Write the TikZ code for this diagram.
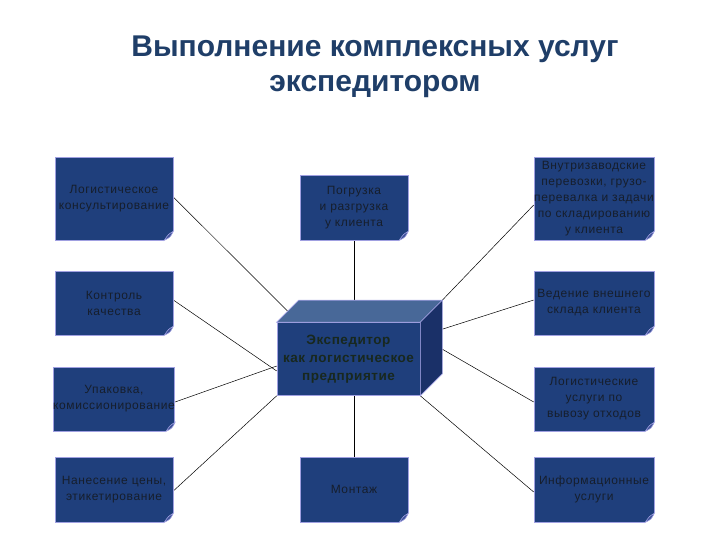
\documentclass[tikz,border=0pt]{standalone}
\usepackage{fontspec}
\setmainfont{Liberation Sans}
\newfontfamily\cardfont[LetterSpace=5]{Liberation Sans}
\newfontfamily\cubefont[LetterSpace=4]{Liberation Sans}
\usetikzlibrary{backgrounds,calc}
\definecolor{boxblue}{RGB}{31,63,124}
\definecolor{edge}{RGB}{160,160,225}
\definecolor{txt}{RGB}{22,30,44}
\definecolor{ctxt}{RGB}{24,40,30}
\definecolor{title}{RGB}{31,62,104}
\definecolor{topf}{RGB}{72,104,152}
\definecolor{sidef}{RGB}{26,48,104}
\definecolor{flapc}{RGB}{60,80,150}
\begin{document}
\begin{tikzpicture}[x=1pt,y=-1pt,
  card/.style={draw=edge, line width=0.6pt, fill=boxblue, text=txt, align=center,
    inner sep=0pt, font=\cardfont\fontsize{12}{16}\selectfont},
  conn/.style={draw=black, line width=0.5pt}]
\useasboundingbox (0,0) rectangle (720,540);
% title
\node[text=title, align=center, font=\fontsize{30}{35}\selectfont\bfseries] (t) at (375,67)
  {Выполнение комплексных услуг\\экспедитором};
% left column
\node[card, minimum width=118pt, minimum height=83pt] (l1) at (114,198.5) {Логистическое\\консультирование};
\node[card, minimum width=118pt, minimum height=64pt] (l2) at (114,303) {Контроль\\качества};
\node[card, minimum width=118pt, minimum height=64pt] (l3) at (114,399) {Упаковка,\\комиссионирование};
\node[card, minimum width=118pt, minimum height=65pt] (l4) at (114,489.5) {Нанесение цены,\\этикетирование};
% middle
\node[card, minimum width=108pt, minimum height=65pt] (m1) at (354,207.5) {Погрузка\\и разгрузка\\у клиента};
\node[card, minimum width=108pt, minimum height=65pt] (m2) at (354,489.5) {Монтаж};
% right column
\node[card, minimum width=120pt, minimum height=83pt] (r1) at (594,198.5) {Внутризаводские\\перевозки, грузо-\\перевалка и задачи\\по складированию\\у клиента};
\node[card, minimum width=120pt, minimum height=64pt] (r2) at (594,303) {Ведение внешнего\\склада клиента};
\node[card, minimum width=120pt, minimum height=64pt] (r3) at (594,399) {Логистические\\услуги по\\вывозу отходов};
\node[card, minimum width=120pt, minimum height=65pt] (r4) at (594,489.5) {Информационные\\услуги};
% folded corners
\foreach \n in {l1,l2,l3,l4,m1,m2,r1,r2,r3,r4}{
  \fill[white] ([xshift=-10pt,yshift=-1pt]\n.south east) -- ([xshift=1pt,yshift=-1pt]\n.south east) -- ([xshift=1pt,yshift=10pt]\n.south east) -- cycle;
  \filldraw[fill=flapc, draw=edge, line width=0.6pt] ([yshift=9pt]\n.south east)
    .. controls ([xshift=-3pt,yshift=3pt]\n.south east) .. ([xshift=-9pt]\n.south east)
    .. controls ([xshift=-5pt,yshift=6pt]\n.south east) .. cycle;
}
% cube
\node[draw=edge, line width=0.6pt, fill=boxblue, minimum width=143pt, minimum height=73pt,
  text=ctxt, align=center, inner sep=0pt, font=\cubefont\fontsize{13.5}{18}\selectfont\bfseries] (cube) at (348.5,359)
  {Экспедитор\\как логистическое\\предприятие};
\coordinate (bl) at ([xshift=22pt,yshift=22pt]cube.north west);
\coordinate (br) at ([xshift=22pt,yshift=22pt]cube.north east);
\coordinate (bb) at ([xshift=22pt,yshift=22pt]cube.south east);
\filldraw[fill=topf, draw=edge, line width=0.6pt] (cube.north west) -- (bl) -- (br) -- (cube.north east) -- cycle;
\filldraw[fill=sidef, draw=edge, line width=0.6pt] (cube.north east) -- (br) -- (bb) -- (cube.south east) -- cycle;
% connectors
\begin{scope}[on background layer]
\draw[conn] ([yshift=1.5pt]l1.east) -- ($(cube.north west)!0.5!(bl)$);
\draw[conn] ([yshift=3pt]l2.east) -- ([yshift=-12pt]cube.west);
\draw[conn] ([yshift=-3pt]l3.east) -- ([yshift=-7pt]cube.west);
\draw[conn] ([yshift=-1.5pt]l4.east) -- (cube.south west);
\draw[conn] (m1.south) -- (cube.north -| m1.south);
\draw[conn] (cube.south -| m2.north) -- (m2.north);
\draw[conn] ([yshift=-6.5pt]r1.west) -- (br);
\draw[conn] ([yshift=3pt]r2.west) -- ([yshift=-29pt]br);
\draw[conn] ([yshift=-3pt]r3.west) -- ([yshift=-49pt]br);
\draw[conn] ([yshift=-2.5pt]r4.west) -- (cube.south east);
\end{scope}
\end{tikzpicture}
\end{document}
